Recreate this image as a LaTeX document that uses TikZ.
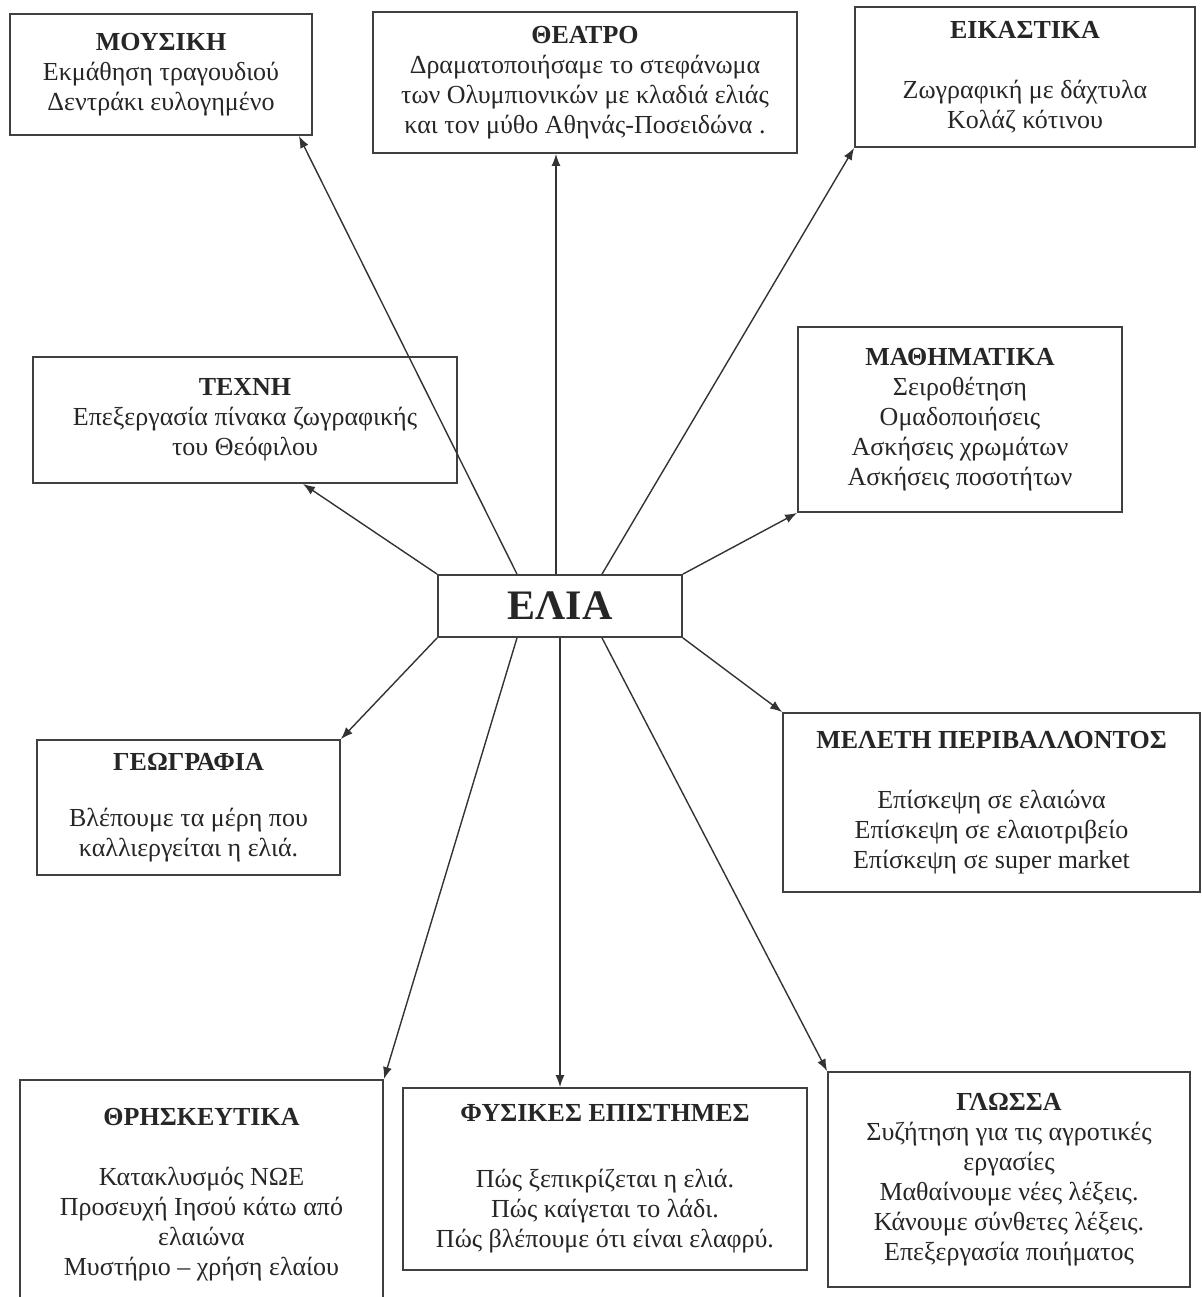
\documentclass[tikz,border=0pt]{standalone}
\usepackage{fontspec}
\setmainfont{Liberation Serif}
\usetikzlibrary{arrows.meta, calc}

\begin{document}
\begin{tikzpicture}[
	x=0.5pt, y=-0.5pt,
	box/.style={rectangle, draw=black!75, line width=0.9pt,
		align=center, inner sep=0pt, text=black!85,
		font=\fontsize{13}{15}\selectfont},
	arrow/.style={-{Latex[length=6pt, width=4.5pt]}, draw=black!80, line width=0.7pt}
	]
	\useasboundingbox (0,0) rectangle (1201,1297);
	
	\node[box, font=\bfseries\fontsize{21}{24}\selectfont,
		minimum width=122pt, minimum height=31pt] (elia) at (560,606) {ΕΛΙΑ};
	
	% top row
	\node[box, minimum width=151pt, minimum height=60.5pt] (mousiki) at (161,74.5)
	{\textbf{ΜΟΥΣΙΚΗ}\\ Εκμάθηση τραγουδιού\\ Δεντράκι ευλογημένο};
	\node[box, minimum width=212pt, minimum height=70.5pt] (theatro) at (585,82.5)
	{\textbf{ΘΕΑΤΡΟ}\\ Δραματοποιήσαμε το στεφάνωμα\\ των Ολυμπιονικών με κλαδιά ελιάς\\ και τον μύθο Αθηνάς-Ποσειδώνα .};
	\node[box, minimum width=170pt, minimum height=70pt] (eikastika) at (1025,77)
	{\textbf{ΕΙΚΑΣΤΙΚΑ}\\[15pt] Ζωγραφική με δάχτυλα\\ Κολάζ κότινου};
	
	% middle
	\node[box, minimum width=212pt, minimum height=63pt] (techni) at (245,420)
	{\textbf{ΤΕΧΝΗ}\\ Επεξεργασία πίνακα ζωγραφικής\\ του Θεόφιλου};
	\node[box, minimum width=162pt, minimum height=92.5pt] (mathimatika) at (960,419.5)
	{\textbf{ΜΑΘΗΜΑΤΙΚΑ}\\ Σειροθέτηση\\ Ομαδοποιήσεις\\ Ασκήσεις χρωμάτων\\ Ασκήσεις ποσοτήτων};
	\node[box, minimum width=151.5pt, minimum height=67.5pt] (geografia) at (188.5,807.5)
	{\textbf{ΓΕΩΓΡΑΦΙΑ}\\[13pt] Βλέπουμε τα μέρη που\\ καλλιεργείται η ελιά.};
	\node[box, minimum width=208.5pt, minimum height=89.5pt] (meleti) at (991.5,802.5)
	{\textbf{ΜΕΛΕΤΗ ΠΕΡΙΒΑΛΛΟΝΤΟΣ}\\[15pt] Επίσκεψη σε ελαιώνα\\ Επίσκεψη σε ελαιοτριβείο\\ Επίσκεψη σε super market};
	
	% bottom row
	\node[box, minimum width=181.5pt, minimum height=115pt] (thriskeftika) at (201.5,1195)
	{\textbf{ΘΡΗΣΚΕΥΤΙΚΑ}\\[15pt] Κατακλυσμός ΝΩΕ\\ Προσευχή Ιησού κάτω από\\ ελαιώνα\\ Μυστήριο – χρήση ελαίου};
	\node[box, minimum width=202pt, minimum height=91pt] (fysikes) at (605,1179)
	{\textbf{ΦΥΣΙΚΕΣ ΕΠΙΣΤΗΜΕΣ}\\[18pt] Πώς ξεπικρίζεται η ελιά.\\ Πώς καίγεται το λάδι.\\ Πώς βλέπουμε ότι είναι ελαφρύ.};
	\node[box, minimum width=181pt, minimum height=107.5pt] (glossa) at (1009,1179.5)
	{\textbf{ΓΛΩΣΣΑ}\\ Συζήτηση για τις αγροτικές\\ εργασίες\\ Μαθαίνουμε νέες λέξεις.\\ Κάνουμε σύνθετες λέξεις.\\ Επεξεργασία ποιήματος};
	
	\draw[arrow] ($(elia.north)+(-43,0)$) -- ($(mousiki.south east)+(-14,0)$);
	\draw[arrow] ($(elia.north)+(-4,0)$) -- ($(elia.north |- theatro.south)+(-4,0)$);
	\draw[arrow] ($(elia.north)+(42,0)$) -- (eikastika.south west);
	\draw[arrow] (elia.north west) -- ($(techni.south)+(58,0)$);
	\draw[arrow] (elia.north east) -- (mathimatika.south west);
	\draw[arrow] (elia.south west) -- (geografia.north east);
	\draw[arrow] (elia.south east) -- (meleti.north west);
	\draw[arrow] ($(elia.south)+(-43,0)$) -- (thriskeftika.north east);
	\draw[arrow] (elia.south) -- (elia.south |- fysikes.north);
	\draw[arrow] ($(elia.south)+(42,0)$) -- (glossa.north west);
\end{tikzpicture}
\end{document}
